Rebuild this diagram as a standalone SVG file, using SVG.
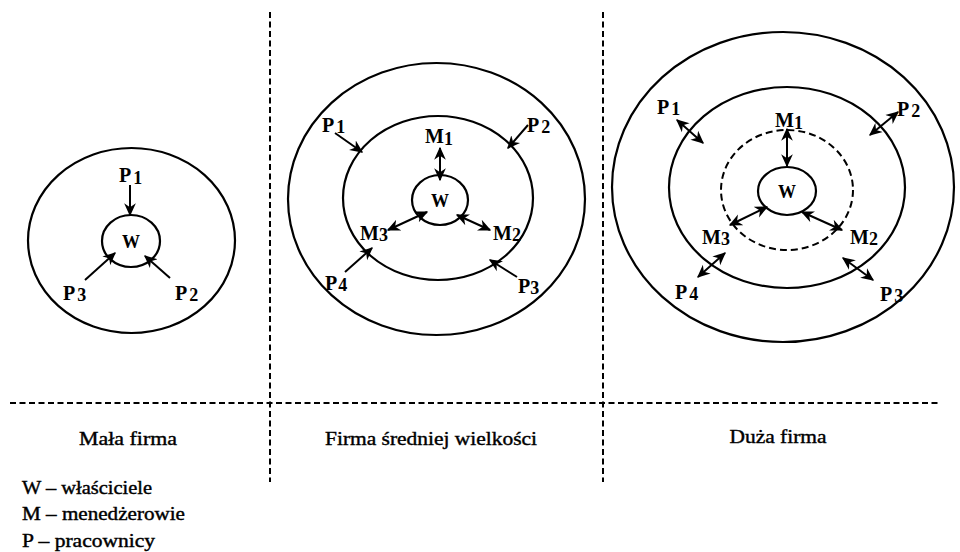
<svg xmlns="http://www.w3.org/2000/svg" width="960" height="552" viewBox="0 0 960 552">
<style>
.ring{fill:none;stroke:#000;stroke-width:2.2}
.dring{fill:none;stroke:#000;stroke-width:2;stroke-dasharray:7,4}
.sep{fill:none;stroke:#000;stroke-width:2;stroke-dasharray:6,3.5}
.lbl{font-family:"Liberation Serif","Times New Roman",serif;font-size:20px;font-weight:bold;fill:#000}
.sub{font-size:18px}
.w{font-family:"Liberation Serif","Times New Roman",serif;font-size:18px;font-weight:bold;fill:#000;text-anchor:middle}
.cap{font-family:"Liberation Serif","Times New Roman",serif;font-size:19px;fill:#000;stroke:#000;stroke-width:0.4;text-anchor:middle}
.leg{font-family:"Liberation Serif","Times New Roman",serif;font-size:18px;fill:#000;stroke:#000;stroke-width:0.4}
.a{stroke:#000;stroke-width:2;fill:none;marker-end:url(#ah)}
.b{stroke:#000;stroke-width:2;fill:none;marker-end:url(#ah);marker-start:url(#ah)}
</style>
<defs>
<marker id="ah" viewBox="0 0 10 10" refX="9" refY="5" markerWidth="13" markerHeight="13" markerUnits="userSpaceOnUse" orient="auto-start-reverse">
<path d="M0,0.5 L10,5 L0,9.5 L3,5 z" fill="#000"/>
</marker>
</defs>
<rect width="960" height="552" fill="#fff"/>

<g id="separators">
<line class="sep" x1="270" y1="12" x2="270" y2="482"/>
<line class="sep" x1="603" y1="12" x2="603" y2="482"/>
<line class="sep" x1="10" y1="403" x2="938" y2="403"/>
</g>

<g id="small-firm">
<ellipse class="ring" cx="131.5" cy="240.5" rx="103.5" ry="92.5"/>
<g id="s-W"><ellipse class="ring" cx="131" cy="241" rx="29" ry="26"/><text class="w" x="131" y="248">W</text></g>
<g id="s-P1"><text class="lbl" x="119" y="182">P<tspan class="sub" dx="2" dy="2">1</tspan></text></g>
<g id="s-P3"><text class="lbl" x="63" y="300">P<tspan class="sub" dx="2" dy="1">3</tspan></text></g>
<g id="s-P2"><text class="lbl" x="175" y="300">P<tspan class="sub" dx="2" dy="1">2</tspan></text></g>
</g>

<g id="medium-firm">
<ellipse class="ring" cx="436.5" cy="199" rx="148.5" ry="136"/>
<ellipse class="ring" cx="438" cy="198" rx="95" ry="82"/>
<g id="m-W"><ellipse class="ring" cx="440" cy="200" rx="28" ry="25"/><text class="w" x="440" y="207">W</text></g>
<g id="m-M1"><text class="lbl" x="425" y="143">M<tspan class="sub" dy="2">1</tspan></text></g>
<g id="m-M3"><text class="lbl" x="360" y="240">M<tspan class="sub" dy="1">3</tspan></text></g>
<g id="m-M2"><text class="lbl" x="493" y="240">M<tspan class="sub" dy="1">2</tspan></text></g>
<g id="m-P1"><text class="lbl" x="322" y="132">P<tspan class="sub" dx="2" dy="1">1</tspan></text></g>
<g id="m-P2"><text class="lbl" x="527" y="132">P<tspan class="sub" dx="2" dy="1">2</tspan></text></g>
<g id="m-P4"><text class="lbl" x="325" y="290">P<tspan class="sub" dx="1" dy="1">4</tspan></text></g>
<g id="m-P3"><text class="lbl" x="518" y="293">P<tspan class="sub" dy="1">3</tspan></text></g>
</g>

<g id="large-firm">
<ellipse class="ring" cx="783" cy="187" rx="171" ry="155"/>
<ellipse class="ring" cx="787" cy="187.5" rx="118" ry="100.5"/>
<ellipse class="dring" cx="787" cy="190" rx="66" ry="60"/>
<g id="l-W"><ellipse class="ring" cx="787" cy="191" rx="29" ry="24"/><text class="w" x="787" y="198">W</text></g>
<g id="l-M1"><text class="lbl" x="775" y="127">M<tspan class="sub" dy="2">1</tspan></text></g>
<g id="l-M3"><text class="lbl" x="702" y="244">M<tspan class="sub" dy="1">3</tspan></text></g>
<g id="l-M2"><text class="lbl" x="850" y="244">M<tspan class="sub" dy="1">2</tspan></text></g>
<g id="l-P1"><text class="lbl" x="657" y="114">P<tspan class="sub" dx="2" dy="1">1</tspan></text></g>
<g id="l-P2"><text class="lbl" x="897" y="116">P<tspan class="sub" dx="2" dy="1">2</tspan></text></g>
<g id="l-P4"><text class="lbl" x="675" y="299">P<tspan class="sub" dx="2" dy="1">4</tspan></text></g>
<g id="l-P3"><text class="lbl" x="880" y="301">P<tspan class="sub" dx="2" dy="1">3</tspan></text></g>
</g>

<g id="connectors">
<line class="a" x1="130" y1="185" x2="130" y2="215"/>
<line class="a" x1="85" y1="280" x2="115" y2="253"/>
<line class="a" x1="170" y1="278" x2="145" y2="256"/>

<line class="b" x1="440" y1="148" x2="440" y2="180"/>
<line class="b" x1="388" y1="230" x2="427" y2="212"/>
<line class="b" x1="457" y1="215" x2="490" y2="230"/>
<line class="a" x1="335" y1="133" x2="362" y2="152"/>
<line class="a" x1="528" y1="125" x2="508" y2="148"/>
<line class="a" x1="345" y1="272" x2="372" y2="248"/>
<line class="a" x1="517" y1="277" x2="490" y2="260"/>

<line class="b" x1="787" y1="129" x2="787" y2="166"/>
<line class="b" x1="730" y1="225" x2="767" y2="207"/>
<line class="b" x1="802" y1="212" x2="842" y2="230"/>
<line class="b" x1="677" y1="120" x2="703" y2="143"/>
<line class="b" x1="898" y1="112" x2="870" y2="135"/>
<line class="b" x1="698" y1="277" x2="725" y2="253"/>
<line class="b" x1="843" y1="258" x2="873" y2="280"/>
</g>

<g id="captions">
<text class="cap" x="128" y="445" textLength="98" lengthAdjust="spacingAndGlyphs">Mała firma</text>
<text class="cap" x="431" y="445" textLength="212" lengthAdjust="spacingAndGlyphs">Firma średniej wielkości</text>
<text class="cap" x="778" y="443" textLength="97" lengthAdjust="spacingAndGlyphs">Duża firma</text>
</g>

<g id="legend">
<text class="leg" x="22" y="494" textLength="130" lengthAdjust="spacingAndGlyphs">W – właściciele</text>
<text class="leg" x="22" y="520" textLength="163" lengthAdjust="spacingAndGlyphs">M – menedżerowie</text>
<text class="leg" x="22" y="547" textLength="133" lengthAdjust="spacingAndGlyphs">P – pracownicy</text>
</g>
</svg>
